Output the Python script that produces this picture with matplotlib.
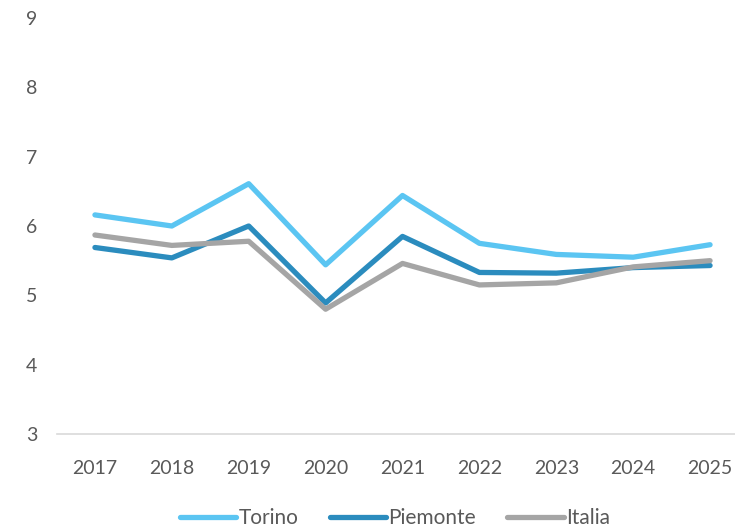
import matplotlib
matplotlib.use("Agg")
import matplotlib.pyplot as plt

years = ["2017", "2018", "2019", "2020", "2021", "2022", "2023", "2024", "2025"]
torino = [6.16, 6.00, 6.61, 5.44, 6.44, 5.75, 5.59, 5.55, 5.73]
piemonte = [5.69, 5.54, 6.00, 4.89, 5.85, 5.33, 5.32, 5.40, 5.43]
italia = [5.87, 5.72, 5.78, 4.80, 5.46, 5.15, 5.18, 5.41, 5.50]
yticks = [3, 4, 5, 6, 7, 8, 9]

plt.rcParams['font.family'] = ['Lato', 'DejaVu Sans']

fig = plt.figure(figsize=(7.35, 5.29), dpi=100)
W, H = 735, 529
left, right = 56.5, 748.5
top, bottom = 18, 434
ax = fig.add_axes([left / W, 1 - bottom / H, (right - left) / W, (bottom - top) / H])

x = list(range(len(years)))
ax.plot(x, torino, color="#5BC5F2", lw=3.8, label="Torino", solid_capstyle="round", zorder=3)
ax.plot(x, piemonte, color="#2B8CBE", lw=3.8, label="Piemonte", solid_capstyle="round", zorder=4)
ax.plot(x, italia, color="#A5A5A5", lw=3.8, label="Italia", solid_capstyle="round", zorder=5)

ax.set_xlim(-0.5, len(years) - 0.5)
ax.set_ylim(3, 9)
ax.set_yticks(yticks)
ax.set_yticklabels([str(v) for v in yticks])
ax.set_xticks(x)
ax.set_xticklabels(years)

for s in ["top", "right", "left"]:
    ax.spines[s].set_visible(False)
ax.spines["bottom"].set_color("#D9D9D9")
ax.spines["bottom"].set_linewidth(1.2)
ax.tick_params(axis="both", length=0, labelsize=14, colors="#595959")
ax.tick_params(axis="y", pad=14)
ax.tick_params(axis="x", pad=19)

leg = fig.legend(loc="center", bbox_to_anchor=(395 / W, 1 - 518 / H), ncol=3, frameon=False,
                 fontsize=15, handlelength=2.7, handletextpad=0.12, columnspacing=1.5)
for t in leg.get_texts():
    t.set_color("#595959")

fig.savefig("out.png", dpi=100)
